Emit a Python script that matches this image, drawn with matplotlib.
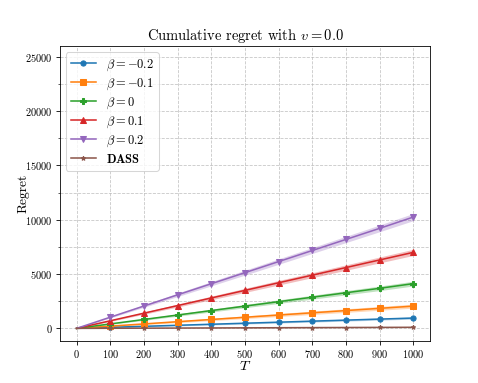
import matplotlib
matplotlib.use("Agg")
import matplotlib.pyplot as plt
from matplotlib.ticker import MultipleLocator
import numpy as np

plt.rcParams['font.family'] = 'serif'
plt.rcParams['font.serif'] = ['cmr10']
plt.rcParams['mathtext.fontset'] = 'cm'
plt.rcParams['axes.formatter.use_mathtext'] = True
plt.rcParams['axes.unicode_minus'] = False

T = [0, 100, 200, 300, 400, 500, 600, 700, 800, 900, 1000]

labels = [r'$\beta = -0.2$', r'$\beta = -0.1$', r'$\beta = 0$',
          r'$\beta = 0.1$', r'$\beta = 0.2$', r'$\mathbf{DASS}$']
markers = ['o', 's', 'P', '^', 'v', '*']

regret_m02 = [0, 95, 190, 285, 380, 475, 570, 665, 760, 855, 950]
regret_m01 = [0, 205, 410, 615, 820, 1025, 1230, 1435, 1640, 1845, 2050]
regret_0 = [0, 410, 820, 1230, 1640, 2050, 2460, 2870, 3280, 3690, 4120]
regret_01 = [0, 700, 1400, 2100, 2800, 3500, 4200, 4900, 5600, 6300, 7000]
regret_02 = [0, 1030, 2060, 3090, 4110, 5130, 6150, 7170, 8190, 9210, 10250]
regret_dass = [0, 10, 20, 30, 40, 50, 60, 70, 80, 90, 100]

spread_m02 = [0, 25, 40, 55, 65, 75, 80, 85, 90, 95, 100]
spread_m01 = [0, 40, 70, 90, 110, 125, 140, 155, 165, 175, 185]
spread_0 = [0, 45, 80, 110, 130, 150, 165, 180, 195, 210, 220]
spread_01 = [0, 60, 100, 135, 165, 190, 210, 230, 250, 270, 285]
spread_02 = [0, 70, 120, 160, 195, 225, 250, 270, 290, 310, 330]
spread_dass = [0, 8, 12, 15, 18, 20, 22, 24, 26, 28, 30]

series = [regret_m02, regret_m01, regret_0, regret_01, regret_02, regret_dass]
spreads = [spread_m02, spread_m01, spread_0, spread_01, spread_02, spread_dass]

dpi = 74.7
fig, ax = plt.subplots(figsize=(478 / dpi, 383 / dpi), dpi=dpi)

for i in range(len(series)):
    y = np.array(series[i])
    s = np.array(spreads[i])
    line, = ax.plot(T, y, marker=markers[i], markevery=slice(1, None),
                    markersize=5 if markers[i] != '*' else 4.5, label=labels[i])
    ax.fill_between(T, y - s, y + s, color=line.get_color(), alpha=0.3, lw=0)

ax.set_xticks(T)
ax.set_xlim(-50, 1050)
ax.set_ylim(-1150, 26000)
ax.yaxis.set_major_locator(MultipleLocator(5000))
ax.yaxis.set_minor_locator(MultipleLocator(2500))
ax.grid(True, which='both', linestyle='--', color='#b0b0b0', alpha=0.7)
ax.set_axisbelow(True)

ax.set_xlabel(r'$T$', fontsize=14, labelpad=-1)
ax.set_ylabel('Regret', fontsize=13, labelpad=-4)
ax.set_title(r'Cumulative regret with $v = 0.0$', fontsize=14)
ax.legend(loc='upper left', fontsize=12, labelspacing=0.3)

fig.savefig('out.png', dpi=dpi)
